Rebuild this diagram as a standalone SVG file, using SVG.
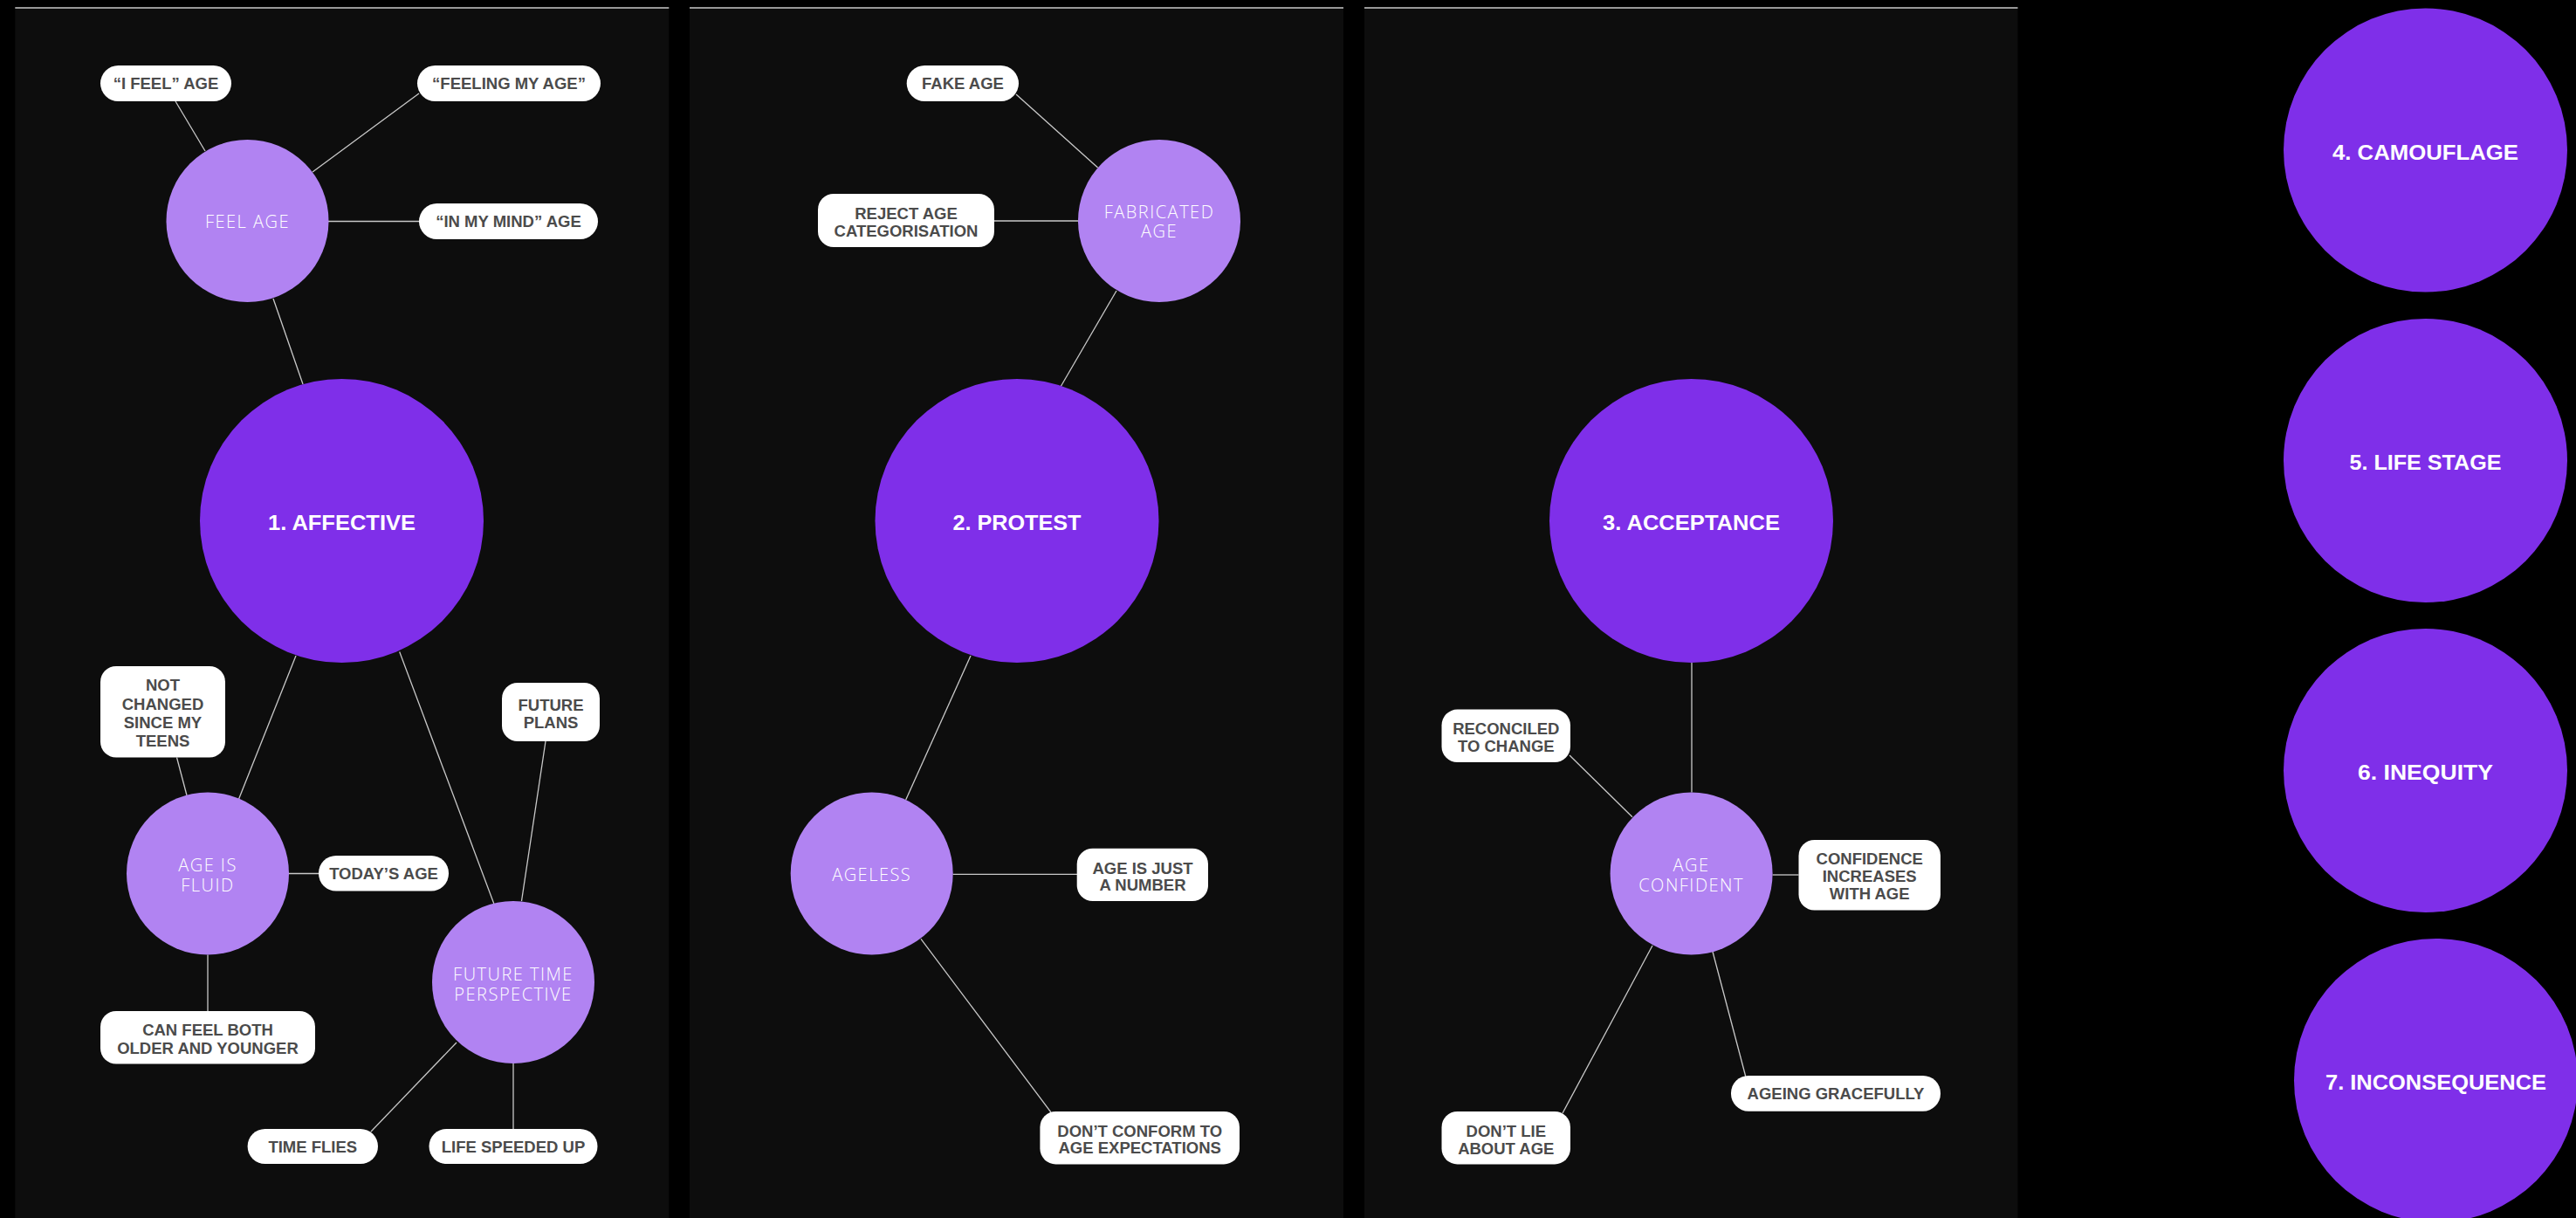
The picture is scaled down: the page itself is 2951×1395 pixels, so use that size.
<svg xmlns="http://www.w3.org/2000/svg" width="2951" height="1395" viewBox="0 0 2951 1395">
<style>
.panel{fill:#0d0d0d}
.topline{stroke:#c8c8c8;stroke-width:1.6}
.conn line{stroke:#c9c9c9;stroke-width:1.3}
.main{fill:#7f2fe9}
.sub{fill:#b183f2}
.pill{fill:#ffffff}
.pt{font-family:"Liberation Sans",Arial,sans-serif;font-weight:700;font-size:18.5px;fill:#4b4b4b;letter-spacing:0px;text-anchor:middle}
.ct{font-family:"Open Sans","Liberation Sans",sans-serif;font-weight:300;font-size:20px;fill:#ffffff;letter-spacing:1.5px;text-anchor:middle}
.mt{font-family:"Liberation Sans",Arial,sans-serif;font-weight:700;font-size:23px;fill:#ffffff;text-anchor:middle}
</style>
<rect x="0" y="0" width="2951" height="1395" fill="#000000"/>
<g id="panels">
<rect class="panel" x="17.3" y="9" width="749" height="1386"/>
<rect class="panel" x="790" y="9" width="749" height="1386"/>
<rect class="panel" x="1563" y="9" width="748.5" height="1386"/>
<line class="topline" x1="17.3" y1="9" x2="766.3" y2="9"/>
<line class="topline" x1="790" y1="9" x2="1539" y2="9"/>
<line class="topline" x1="1563" y1="9" x2="2311.5" y2="9"/>
</g>
<g id="connectors" class="conn">
<line x1="201" y1="116" x2="235" y2="173"/>
<line x1="480" y1="107" x2="358" y2="197"/>
<line x1="376" y1="253.5" x2="480" y2="253.5"/>
<line x1="313" y1="342" x2="347" y2="440"/>
<line x1="339" y1="751" x2="273.6" y2="915"/>
<line x1="457.7" y1="746.5" x2="566" y2="1035.5"/>
<line x1="202.5" y1="867.5" x2="214" y2="911"/>
<line x1="625" y1="849" x2="597.5" y2="1032"/>
<line x1="331" y1="1000.5" x2="365" y2="1000.5"/>
<line x1="238" y1="1093.5" x2="238" y2="1158"/>
<line x1="523" y1="1194" x2="425" y2="1296"/>
<line x1="588" y1="1218" x2="588" y2="1293"/>
<line x1="1164" y1="108" x2="1257.6" y2="192"/>
<line x1="1139" y1="253" x2="1235" y2="253"/>
<line x1="1279" y1="333" x2="1215" y2="443"/>
<line x1="1112" y1="751" x2="1037.7" y2="916"/>
<line x1="1091.5" y1="1001.4" x2="1234" y2="1001.4"/>
<line x1="1055" y1="1075.4" x2="1204" y2="1274"/>
<line x1="1938" y1="759" x2="1938" y2="907.5"/>
<line x1="1798" y1="865" x2="1870" y2="935.8"/>
<line x1="2030.5" y1="1002" x2="2060.5" y2="1002"/>
<line x1="1962" y1="1090" x2="1999.8" y2="1233"/>
<line x1="1893" y1="1083" x2="1790" y2="1275"/>
</g>
<g id="nodes">
<g id="affective"><circle class="main" cx="391.5" cy="596.5" r="162.5"/><text class="mt" x="391.5" y="606.5" textLength="169" lengthAdjust="spacingAndGlyphs">1. AFFECTIVE</text></g>
<g id="feel-age"><circle class="sub" cx="283.5" cy="253" r="93"/><text class="ct" x="283.5" y="260.5">FEEL AGE</text></g>
<g id="i-feel-age"><rect class="pill" x="115" y="75" width="150" height="41" rx="20.5"/><text class="pt" x="190" y="102">“I FEEL” AGE</text></g>
<g id="feeling-my-age"><rect class="pill" x="478" y="75" width="210" height="41" rx="20.5"/><text class="pt" x="583" y="102">“FEELING MY AGE”</text></g>
<g id="in-my-mind-age"><rect class="pill" x="480" y="233" width="205" height="41" rx="20.5"/><text class="pt" x="582.5" y="260">“IN MY MIND” AGE</text></g>
<g id="age-is-fluid"><circle class="sub" cx="238" cy="1000.5" r="93"/><text class="ct" x="238" y="998">AGE IS</text><text class="ct" x="238" y="1020.5">FLUID</text></g>
<g id="not-changed"><rect class="pill" x="115" y="763" width="143" height="104.5" rx="18"/><text class="pt" x="186.5" y="791">NOT</text><text class="pt" x="186.5" y="812.5">CHANGED</text><text class="pt" x="186.5" y="834">SINCE MY</text><text class="pt" x="186.5" y="855">TEENS</text></g>
<g id="todays-age"><rect class="pill" x="365" y="980" width="149" height="40.5" rx="20"/><text class="pt" x="439.5" y="1006.5">TODAY’S AGE</text></g>
<g id="can-feel-both"><rect class="pill" x="115" y="1158" width="246" height="60.6" rx="18"/><text class="pt" x="238" y="1186">CAN FEEL BOTH</text><text class="pt" x="238" y="1206.7">OLDER AND YOUNGER</text></g>
<g id="future-time-perspective"><circle class="sub" cx="588" cy="1125" r="93"/><text class="ct" x="588" y="1123">FUTURE TIME</text><text class="ct" x="588" y="1146">PERSPECTIVE</text></g>
<g id="future-plans"><rect class="pill" x="575" y="782" width="112" height="67" rx="18"/><text class="pt" x="631" y="813.5">FUTURE</text><text class="pt" x="631" y="834">PLANS</text></g>
<g id="time-flies"><rect class="pill" x="283.6" y="1293" width="149.4" height="40" rx="20"/><text class="pt" x="358.3" y="1319.5">TIME FLIES</text></g>
<g id="life-speeded-up"><rect class="pill" x="491.5" y="1293" width="193" height="40" rx="20"/><text class="pt" x="588" y="1319.5">LIFE SPEEDED UP</text></g>

<g id="protest"><circle class="main" cx="1165" cy="596.5" r="162.5"/><text class="mt" x="1165" y="606.5" textLength="147" lengthAdjust="spacingAndGlyphs">2. PROTEST</text></g>
<g id="fabricated-age"><circle class="sub" cx="1328" cy="253" r="93"/><text class="ct" x="1328" y="249.5">FABRICATED</text><text class="ct" x="1328" y="272">AGE</text></g>
<g id="fake-age"><rect class="pill" x="1038.7" y="75" width="128.3" height="41" rx="20.5"/><text class="pt" x="1103" y="102">FAKE AGE</text></g>
<g id="reject-age"><rect class="pill" x="937" y="222" width="202" height="61" rx="18"/><text class="pt" x="1038" y="250.5">REJECT AGE</text><text class="pt" x="1038" y="270.5">CATEGORISATION</text></g>
<g id="ageless"><circle class="sub" cx="998.7" cy="1000.5" r="93"/><text class="ct" x="998.7" y="1008.5">AGELESS</text></g>
<g id="age-just-number"><rect class="pill" x="1233.7" y="971.7" width="150.3" height="60.3" rx="18"/><text class="pt" x="1309" y="1000.5">AGE IS JUST</text><text class="pt" x="1309" y="1019.5">A NUMBER</text></g>
<g id="dont-conform"><rect class="pill" x="1191.4" y="1273" width="228.6" height="60.4" rx="18"/><text class="pt" x="1305.7" y="1301.5">DON’T CONFORM TO</text><text class="pt" x="1305.7" y="1321">AGE EXPECTATIONS</text></g>

<g id="acceptance"><circle class="main" cx="1937.5" cy="596.5" r="162.5"/><text class="mt" x="1937.5" y="606.5" textLength="203" lengthAdjust="spacingAndGlyphs">3. ACCEPTANCE</text></g>
<g id="age-confident"><circle class="sub" cx="1937.6" cy="1000.5" r="93"/><text class="ct" x="1937.6" y="998">AGE</text><text class="ct" x="1937.6" y="1020.5">CONFIDENT</text></g>
<g id="reconciled"><rect class="pill" x="1651.5" y="812.6" width="147.5" height="60.4" rx="18"/><text class="pt" x="1725.3" y="841">RECONCILED</text><text class="pt" x="1725.3" y="860.5">TO CHANGE</text></g>
<g id="confidence-increases"><rect class="pill" x="2060.5" y="962" width="162.5" height="80.6" rx="18"/><text class="pt" x="2141.7" y="990.3">CONFIDENCE</text><text class="pt" x="2141.7" y="1010.3">INCREASES</text><text class="pt" x="2141.7" y="1030.2">WITH AGE</text></g>
<g id="ageing-gracefully"><rect class="pill" x="1983" y="1232" width="240" height="40.7" rx="20"/><text class="pt" x="2103" y="1258.5">AGEING GRACEFULLY</text></g>
<g id="dont-lie"><rect class="pill" x="1651.5" y="1273" width="147.5" height="60.4" rx="18"/><text class="pt" x="1725.3" y="1301.5">DON’T LIE</text><text class="pt" x="1725.3" y="1321.5">ABOUT AGE</text></g>

<g id="camouflage"><circle class="main" cx="2778.5" cy="172" r="162.5"/><text class="mt" x="2778.5" y="182.5" textLength="213" lengthAdjust="spacingAndGlyphs">4. CAMOUFLAGE</text></g>
<g id="life-stage"><circle class="main" cx="2778.5" cy="527.5" r="162.5"/><text class="mt" x="2778.5" y="538" textLength="174" lengthAdjust="spacingAndGlyphs">5. LIFE STAGE</text></g>
<g id="inequity"><circle class="main" cx="2778.5" cy="882.5" r="162.5"/><text class="mt" x="2778.5" y="893" textLength="155" lengthAdjust="spacingAndGlyphs">6. INEQUITY</text></g>
<g id="inconsequence"><circle class="main" cx="2790.5" cy="1237.5" r="162.5"/><text class="mt" x="2790.5" y="1248" textLength="253" lengthAdjust="spacingAndGlyphs">7. INCONSEQUENCE</text></g>
</g>
</svg>
